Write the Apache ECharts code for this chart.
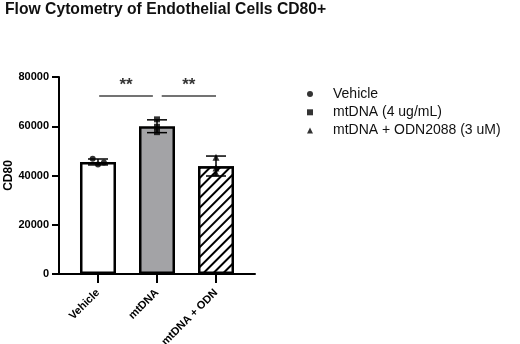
<!DOCTYPE html>
<html>
<head>
<meta charset="utf-8">
<script src="https://cdn.jsdelivr.net/npm/echarts@6/dist/echarts.min.js"></script>
<style>
  html, body { margin: 0; padding: 0; background: #fff; }
  #main { width: 520px; height: 344px; }
</style>
</head>
<body>
<div id="main"></div>
<script>
// groups on the x axis
const categories = ['Vehicle', 'mtDNA', 'mtDNA + ODN'];
const legendNames = ['Vehicle', 'mtDNA (4 ug/mL)', 'mtDNA + ODN2088 (3 uM)'];
// bar heights (means)
const barValues = [45500, 60000, 43800];
// error bars [low, high]
const errLow = [44300, 57400, 39800];
const errHigh = [46700, 62600, 47900];
// individual points per group [x offset, value]
const vehiclePts = [[-0.09, 46800], [0.0, 44500], [0.1, 45300]];
const mtdnaPts = [[0, 62800], [0, 59800], [0, 57600]];
const odnPts = [[0, 47400], [0, 43000], [0, 41000]];
// significance brackets [x0, x1, y]
const sigLines = [[0.02, 0.93, 72300], [1.08, 2.0, 72300]];
const yTicks = [0, 20000, 40000, 60000, 80000];

const font = 'Liberation Sans, Arial, Helvetica, sans-serif';
const chart = echarts.init(document.getElementById('main'));

const barColors = [
  '#ffffff',
  '#a3a3a6',
  '#ffffff'
];

chart.setOption({
  animation: false,
  title: {
    text: 'Flow Cytometry of Endothelial Cells CD80+',
    left: 5,
    top: 2,
    padding: 0,
    textStyle: { fontFamily: font, fontSize: 15.7, fontWeight: 'bold', color: '#111' }
  },
  legend: {
    orient: 'vertical',
    left: 302,
    top: 81,
    itemWidth: 6,
    itemHeight: 6,
    itemGap: 2.3,
    data: legendNames,
    textStyle: { fontFamily: font, fontSize: 14, color: '#111', lineHeight: 16, padding: [0, 0, 0, 15] }
  },
  grid: { left: 59, right: 265, top: 77, bottom: 70, outerBoundsMode: 'none' },
  xAxis: {
    type: 'value',
    min: -0.661,
    max: 2.661,
    splitLine: { show: false },
    axisLine: { show: true, onZero: false, lineStyle: { color: '#000', width: 2 } },
    axisTick: { show: true, customValues: [0, 1, 2], length: 9, lineStyle: { color: '#000', width: 2 } },
    axisLabel: {
      customValues: [0, 1, 2],
      rotate: 45,
      margin: 17,
      formatter: v => categories[Math.round(v)],
      fontFamily: font, fontSize: 11, fontWeight: 'bold', color: '#000'
    }
  },
  yAxis: {
    type: 'value',
    min: yTicks[0],
    max: yTicks[yTicks.length - 1],
    interval: 20000,
    name: 'CD80',
    nameLocation: 'middle',
    nameGap: 44,
    nameTextStyle: { fontFamily: font, fontSize: 12, fontWeight: 'bold', color: '#000' },
    splitLine: { show: false },
    axisLine: { show: true, onZero: false, lineStyle: { color: '#000', width: 2 } },
    axisTick: { show: true, length: 7, lineStyle: { color: '#000', width: 2 } },
    axisLabel: {
      margin: 10,
      formatter: v => String(v),
      fontFamily: font, fontSize: 11, fontWeight: 'bold', color: '#000'
    }
  },
  series: [
    {
      type: 'bar',
      barWidth: 36,
      silent: true,
      data: barValues.map((v, i) => ({
        value: [i, v],
        itemStyle: {
          color: barColors[i],
          borderColor: '#000',
          borderWidth: 2.5,
          decal: i === 2 ? {
            symbol: 'rect',
            color: '#000',
            backgroundColor: '#fff',
            dashArrayX: [1, 0],
            dashArrayY: [2, 5],
            rotation: -Math.PI / 4
          } : null
        }
      })),
      z: 2
    },
    {
      type: 'custom',
      silent: true,
      z: 3,
      data: errLow.map((lo, i) => [i, lo, errHigh[i]]),
      renderItem: (params, api) => {
        const lo = api.coord([api.value(0), api.value(1)]);
        const hi = api.coord([api.value(0), api.value(2)]);
        const half = 10;
        const style = { stroke: '#000', lineWidth: 1.5 };
        return {
          type: 'group',
          children: [
            { type: 'line', shape: { x1: hi[0], y1: hi[1], x2: lo[0], y2: lo[1] }, style },
            { type: 'line', shape: { x1: hi[0] - half, y1: hi[1], x2: hi[0] + half, y2: hi[1] }, style },
            { type: 'line', shape: { x1: lo[0] - half, y1: lo[1], x2: lo[0] + half, y2: lo[1] }, style }
          ]
        };
      }
    },
    {
      name: legendNames[0],
      type: 'scatter',
      symbol: 'circle',
      symbolSize: 6,
      itemStyle: { color: '#000' },
      z: 4,
      data: vehiclePts.map(p => [0 + p[0], p[1]])
    },
    {
      name: legendNames[1],
      type: 'scatter',
      symbol: 'rect',
      symbolSize: 6,
      itemStyle: { color: '#000' },
      z: 4,
      data: mtdnaPts.map(p => [1 + p[0], p[1]])
    },
    {
      name: legendNames[2],
      type: 'scatter',
      symbol: 'triangle',
      symbolSize: 7,
      itemStyle: { color: '#000' },
      z: 4,
      data: odnPts.map(p => [2 + p[0], p[1]])
    },
    ...sigLines.map(s => ({
      type: 'line',
      silent: true,
      symbol: 'none',
      lineStyle: { color: '#444', width: 1.5 },
      data: [[s[0], s[2]], [s[1], s[2]]],
      label: { show: false }
    })),
    {
      type: 'scatter',
      silent: true,
      symbolSize: 0,
      data: sigLines.map(s => [(s[0] + s[1]) / 2, s[2]]),
      label: {
        show: true,
        position: 'top',
        distance: 2,
        formatter: '**',
        fontFamily: font, fontSize: 17, fontWeight: 'bold', color: '#000'
      }
    }
  ]
});
</script>
</body>
</html>
